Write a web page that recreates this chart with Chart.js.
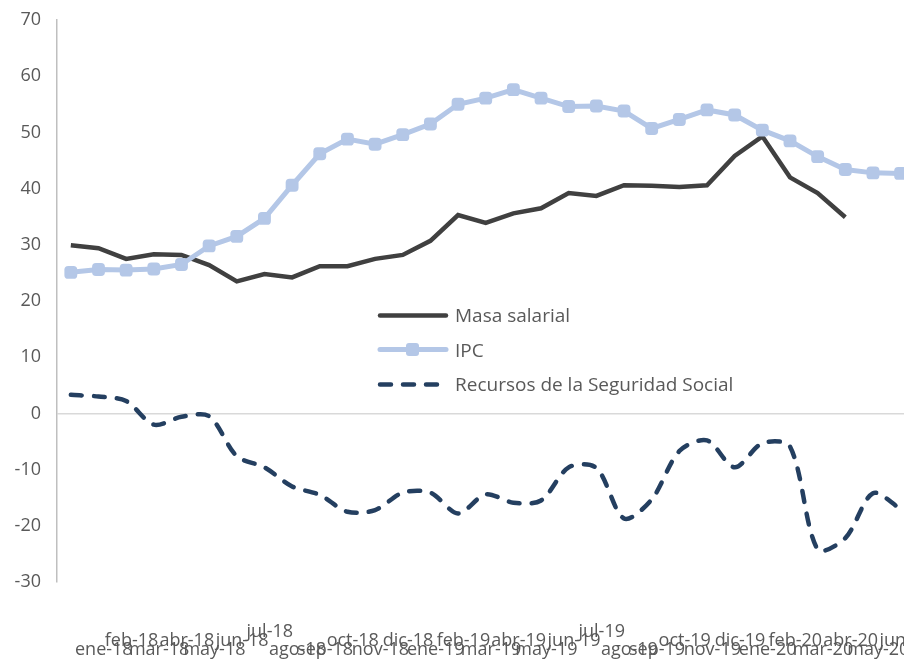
<!DOCTYPE html>
<html lang="es">
<head>
    <meta charset="UTF-8">
    <title>Masa salarial, IPC y Recursos de la Seguridad Social</title>
    <script src="https://cdn.jsdelivr.net/npm/chart.js@4"></script>
    <style>
        html, body { margin: 0; padding: 0; background: #fff; overflow: hidden; }
        .wrap { position: relative; width: 904px; height: 664px; overflow: hidden; }
        .box { position: absolute; left: 0; top: 0; width: 924px; height: 664px; }
        #legend { position: absolute; left: 377px; top: 298px; font-family: 'Open Sans', sans-serif; font-size: 19px; color: #595959; }
        .item { display: flex; align-items: center; height: 34.5px; white-space: nowrap; }
        .item svg { margin-right: 6px; }
    </style>
</head>
<body>
    <div class="wrap">
        <div class="box"><canvas id="chart"></canvas></div>
        <div id="legend"></div>
    </div>
    <script>
        const months = [
            'ene-18', 'feb-18', 'mar-18', 'abr-18', 'may-18', 'jun-18', 'jul-18', 'ago-18', 'sep-18', 'oct-18', 'nov-18', 'dic-18',
            'ene-19', 'feb-19', 'mar-19', 'abr-19', 'may-19', 'jun-19', 'jul-19', 'ago-19', 'sep-19', 'oct-19', 'nov-19', 'dic-19',
            'ene-20', 'feb-20', 'mar-20', 'abr-20', 'may-20', 'jun-20', 'jul-20'
        ];
        const masaSalarial = [
            29.9, 29.4, 27.5, 28.3, 28.2, 26.4, 23.5, 24.8, 24.2, 26.2, 26.2, 27.5,
            28.2, 30.7, 35.3, 33.9, 35.6, 36.5, 39.2, 38.7, 40.6, 40.5, 40.3, 40.6,
            45.8, 49.3, 42.0, 39.2, 34.9
        ];
        const ipc = [
            25.1, 25.6, 25.5, 25.7, 26.5, 29.8, 31.5, 34.7, 40.6, 46.2, 48.8, 47.9,
            49.6, 51.5, 55.0, 56.1, 57.6, 56.1, 54.6, 54.7, 53.8, 50.7, 52.3, 54.0,
            53.1, 50.4, 48.5, 45.7, 43.4, 42.8, 42.7
        ];
        const recursosSS = [
            3.3, 3.0, 2.2, -2.0, -0.6, -0.5, -7.6, -9.6, -13.0, -14.5, -17.5, -17.2,
            -14.1, -14.1, -17.8, -14.4, -15.9, -15.5, -9.6, -9.7, -18.7, -15.3, -6.7, -4.8,
            -9.6, -5.3, -5.9, -24.2, -22.2, -14.2, -17.0
        ];
        const yMin = -30, yMax = 70, yStep = 10;

        // fila de cada etiqueta del eje (0 arriba, 1 media, 2 abajo), como en el original
        const labelRow = [2, 1, 2, 1, 2, 1, 0, 2, 2, 1, 2, 1];
        const labels = months.map((m, i) => {
            const lines = ['', '', '', '', '', '', '', ''];
            lines[5 + labelRow[i % 12]] = m;
            return lines;
        });

        const tickFont = { family: 'Open Sans', size: 18 };

        const chart = new Chart(document.getElementById('chart'), {
            type: 'line',
            data: {
                labels: labels,
                datasets: [
                    {
                        label: 'Masa salarial',
                        data: masaSalarial,
                        borderColor: '#404040',
                        backgroundColor: '#404040',
                        borderWidth: 4.5,
                        pointRadius: 0,
                        tension: 0,
                        order: 1
                    },
                    {
                        label: 'IPC',
                        data: ipc,
                        borderColor: '#B4C7E7',
                        backgroundColor: '#B4C7E7',
                        borderWidth: 5,
                        pointStyle: 'rectRounded',
                        pointRadius: 7.5,
                        pointBorderWidth: 0,
                        tension: 0,
                        order: 0
                    },
                    {
                        label: 'Recursos de la Seguridad Social',
                        data: recursosSS,
                        borderColor: '#243F60',
                        backgroundColor: '#243F60',
                        borderWidth: 4.5,
                        borderDash: [11, 12],
                        borderCapStyle: 'round',
                        pointRadius: 0,
                        tension: 0.3,
                        order: 2
                    }
                ]
            },
            options: {
                responsive: true,
                maintainAspectRatio: false,
                animation: false,
                layout: { padding: { top: 20, left: 0, right: 0, bottom: 0 } },
                plugins: { legend: { display: false }, tooltip: { enabled: false } },
                scales: {
                    x: {
                        offset: true,
                        grid: { display: false, drawTicks: false, offset: true },
                        border: { display: false },
                        ticks: {
                            autoSkip: false,
                            maxRotation: 0,
                            minRotation: 0,
                            padding: 0,
                            labelOffset: 33,
                            color: '#595959',
                            font: { family: 'Open Sans', size: 18, lineHeight: 0.5 }
                        },
                        afterFit: (scale) => { scale.height = 82; }
                    },
                    y: {
                        min: yMin,
                        max: yMax,
                        grid: {
                            drawTicks: true,
                            tickLength: 16,
                            tickColor: 'rgba(0,0,0,0)',
                            lineWidth: 1.5,
                            color: (ctx) => ctx.tick && ctx.tick.value === 0 ? '#d9d9d9' : 'rgba(0,0,0,0)'
                        },
                        border: { color: '#bfbfbf', width: 1.5 },
                        ticks: { stepSize: yStep, padding: 0, color: '#595959', font: tickFont },
                        afterFit: (scale) => { scale.width = 57; }
                    }
                }
            }
        });

        // leyenda dentro del área del gráfico
        const legend = document.getElementById('legend');
        chart.data.datasets.forEach(ds => {
            const item = document.createElement('div');
            item.className = 'item';
            const dash = ds.borderDash ? `stroke-dasharray="${ds.borderDash.join(' ')}"` : '';
            const marker = ds.pointRadius ? `<rect x="29" y="2" width="13" height="13" rx="3" fill="${ds.borderColor}"/>` : '';
            item.innerHTML = `<svg width="72" height="17"><line x1="3" y1="8.5" x2="69" y2="8.5" stroke="${ds.borderColor}" stroke-width="${ds.borderWidth}" stroke-linecap="round" ${dash}/>${marker}</svg><span>${ds.label}</span>`;
            legend.appendChild(item);
        });
    </script>
</body>
</html>
